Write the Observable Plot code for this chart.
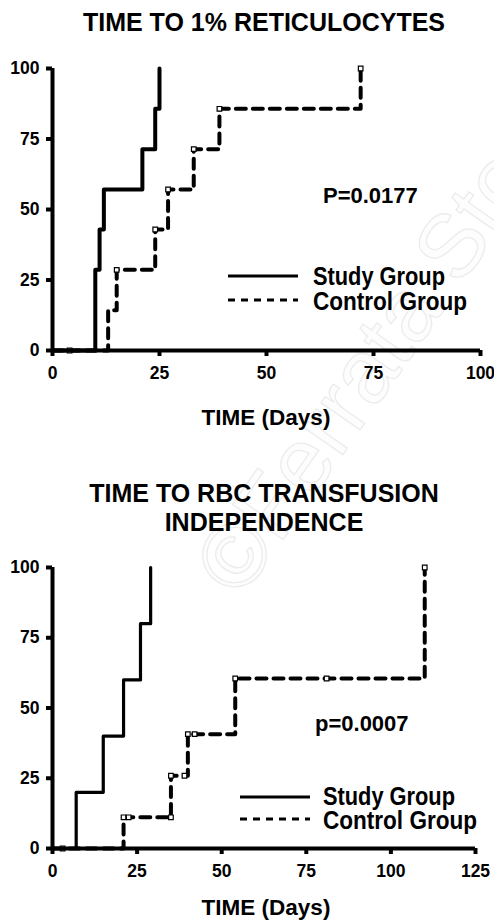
<!DOCTYPE html>
<html>
<head>
<meta charset="utf-8">
<script src="https://cdn.jsdelivr.net/npm/d3@7"></script>
<script src="https://cdn.jsdelivr.net/npm/@observablehq/plot@0.6"></script>
<style>
  body { margin: 0; background: #fff; }
  #wrap { position: relative; width: 494px; height: 921px; overflow: hidden; font-family: "Liberation Sans", Arial, sans-serif; }
  .layer { position: absolute; left: 0; }
</style>
</head>
<body>
<div id="wrap">
  <svg id="wm" class="layer" style="top:0" width="494" height="921">
    <text transform="translate(241,600) rotate(-55)" font-family="Liberation Sans, Arial, sans-serif" font-size="90" fill="#fdfdfd" stroke="#ececec" stroke-width="1.3">©Ferrata Storti</text>
  </svg>
  <div id="chart1" class="layer" style="top:0"></div>
  <div id="chart2" class="layer" style="top:460px"></div>
  <svg id="ov" class="layer" style="top:0" width="494" height="921"></svg>
</div>
<script>
// ---------- data ----------
const xTicksTop = [0, 25, 50, 75, 100];
const xTicksBottom = [0, 25, 50, 75, 100, 125];
const yTicks = [0, 25, 50, 75, 100];

// Panel 1: time to 1% reticulocytes
const retStudyDays = [0, 10, 11, 12, 21, 24, 25];
const retStudyPct = [0, 28.6, 42.9, 57.1, 71.4, 85.7, 100];
const retControlDays = [0, 13, 15, 24, 27, 33, 39, 72];
const retControlPct = [0, 14.3, 28.6, 42.9, 57.1, 71.4, 85.7, 100];
const retControlMarkDays = [4, 15, 24, 27, 33, 39, 72];
const retControlMarkPct = [0, 28.6, 42.9, 57.1, 71.4, 85.7, 100];

// Panel 2: time to RBC transfusion independence
const rbcStudyDays = [0, 7, 15, 21, 26, 29];
const rbcStudyPct = [0, 20, 40, 60, 80, 100];
const rbcControlDays = [0, 21, 35, 40, 54, 110];
const rbcControlPct = [0, 11.1, 25.9, 40.7, 60.5, 100];
const rbcControlMarkDays = [3, 21, 22.5, 35, 35, 39, 40, 42, 54, 81, 110];
const rbcControlMarkPct = [0, 11.1, 11.1, 11.1, 25.9, 25.9, 40.7, 40.7, 60.5, 60.5, 100];

const toRows = (xs, ys) => xs.map((x, i) => ({x, y: ys[i]}));

function km({studyDays, studyPct, controlDays, controlPct, markDays, markPct, xDomain, xTicks, height, marginTop, marginBottom, marginRight, studyWidth}) {
  return Plot.plot({
    width: 494,
    height,
    marginLeft: 52,
    marginRight,
    marginTop,
    marginBottom,
    style: {background: "transparent", fontFamily: "'Liberation Sans', Arial, sans-serif", color: "#000"},
    x: {domain: xDomain},
    y: {domain: [0, 100]},
    marks: [
      Plot.line(toRows(controlDays, controlPct), {x: "x", y: "y", curve: "step-after", stroke: "#000", strokeWidth: 4, strokeDasharray: "10,7"}),
      Plot.line(toRows(studyDays, studyPct), {x: "x", y: "y", curve: "step-after", stroke: "#000", strokeWidth: studyWidth}),
      Plot.dot(toRows(markDays, markPct), {x: "x", y: "y", symbol: "square", r: 2.6, fill: "#fff", stroke: "#000", strokeWidth: 1.2}),
      Plot.ruleX([0], {stroke: "#000", strokeWidth: 4}),
      Plot.ruleY([0], {stroke: "#000", strokeWidth: 4}),
      Plot.axisX({ticks: xTicks, tickSize: 6, tickPadding: 10, strokeWidth: 4, fontSize: 17.5, fontWeight: "bold", label: null}),
      Plot.axisY({ticks: yTicks, tickSize: 6, tickPadding: 7, strokeWidth: 4, fontSize: 17.5, fontWeight: "bold", label: null})
    ]
  });
}

document.getElementById("chart1").append(km({
  studyDays: retStudyDays, studyPct: retStudyPct,
  controlDays: retControlDays, controlPct: retControlPct,
  markDays: retControlMarkDays, markPct: retControlMarkPct,
  xDomain: [0, 100], xTicks: xTicksTop,
  height: 460, marginTop: 68, marginBottom: 110, marginRight: 14, studyWidth: 4
}));

document.getElementById("chart2").append(km({
  studyDays: rbcStudyDays, studyPct: rbcStudyPct,
  controlDays: rbcControlDays, controlPct: rbcControlPct,
  markDays: rbcControlMarkDays, markPct: rbcControlMarkPct,
  xDomain: [0, 125], xTicks: xTicksBottom,
  height: 461, marginTop: 107, marginBottom: 73, marginRight: 19, studyWidth: 3.2
}));

// ---------- overlay text: titles, axis labels, legends, p-values ----------
const ov = d3.select("#ov");
const F = "'Liberation Sans', Arial, sans-serif";
function txt(s, x, y, size, anchor, len) {
  const t = ov.append("text").attr("x", x).attr("y", y).attr("font-family", F)
    .attr("font-size", size).attr("font-weight", "bold").attr("text-anchor", anchor || "middle")
    .attr("fill", "#000").text(s);
  if (len) t.attr("textLength", len).attr("lengthAdjust", "spacingAndGlyphs");
}
txt("TIME TO 1% RETICULOCYTES", 264, 31, 25);
txt("TIME (Days)", 266, 425, 22.5);
txt("TIME TO RBC TRANSFUSION", 264, 502, 25);
txt("INDEPENDENCE", 264, 531, 25);
txt("TIME (Days)", 266, 915, 22.5);
txt("P=0.0177", 323, 203, 22, "start");
txt("p=0.0007", 315, 731, 22, "start");

function legend(x1, x2, yS, yC, tx, bS, bC) {
  ov.append("line").attr("x1", x1).attr("x2", x2).attr("y1", yS).attr("y2", yS).attr("stroke", "#000").attr("stroke-width", 3);
  ov.append("line").attr("x1", x1).attr("x2", x2).attr("y1", yC).attr("y2", yC).attr("stroke", "#000").attr("stroke-width", 3).attr("stroke-dasharray", "7,6");
  txt("Study Group", tx, bS, 25, "start", 132);
  txt("Control Group", tx, bC, 25, "start", 154);
}
legend(228, 298, 276, 300, 313, 285, 310);
legend(240, 310, 797, 819, 323, 805, 829);
</script>
</body>
</html>
